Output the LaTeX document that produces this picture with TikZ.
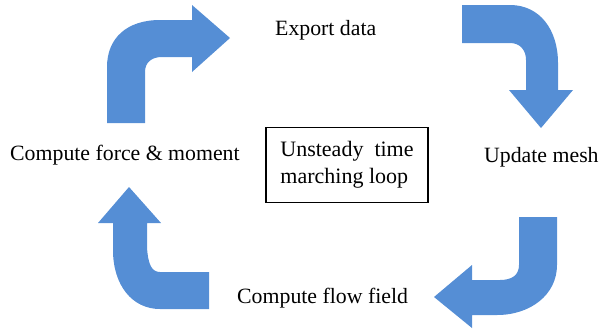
\documentclass[tikz,border=0pt]{standalone}
\usepackage{fontspec}
\setmainfont{Liberation Serif}
\usepackage{tikz}
\definecolor{arrowblue}{HTML}{558ED5}

\begin{document}
\begin{tikzpicture}[x=1pt, y=-1pt,
  steplabel/.style={anchor=base west, inner sep=0pt, font=\fontsize{21.8}{27}\selectfont},
  turnarrow/.style={fill=arrowblue, draw=none}]
\useasboundingbox (0,0) rectangle (599,333);

\node[steplabel] (export) at (275,35) {Export data};
\node[steplabel] (mesh) at (484,162) {Update mesh};
\node[steplabel] (flow) at (237,303) {Compute flow field};
\node[steplabel] (force) at (10,160) {Compute force \& moment};

\node[draw, line width=1.2pt, minimum width=162pt, minimum height=75pt, align=left,
  font=\fontsize{22}{27}\selectfont] (loop) at (347,165) {Unsteady\ \ time\\marching loop};

% top left
\fill[turnarrow] (107,123) -- (107,67) .. controls (107,38) and (127,20) .. (160,20) -- (192,20)
  -- (192,5) -- (230,38) -- (192,72) -- (192,57) -- (162,57)
  .. controls (152,57) and (145,62) .. (145,72) -- (145,123) -- cycle;
% top right
\fill[turnarrow] (462,5) -- (510,5) .. controls (540,5) and (558,30) .. (558,63) -- (558,90)
  -- (573,90) -- (541,128) -- (509,90) -- (526,90) -- (526,60)
  .. controls (526,50) and (520,43) .. (510,43) -- (462,43) -- cycle;
% bottom right
\fill[turnarrow] (519,217) -- (557,217) -- (557,265) .. controls (557,295) and (530,315) .. (497,315)
  -- (472,315) -- (472,328) -- (434,297) -- (472,265) -- (472,280) -- (500,280)
  .. controls (512,280) and (519,275) .. (519,265) -- cycle;
% bottom left
\fill[turnarrow] (129,187) -- (161,223) -- (147,223) -- (147,247)
  .. controls (148,265) and (152,272) .. (160,272) -- (209,272) -- (209,309) -- (160,309)
  .. controls (132,309) and (113,285) .. (113,250) -- (113,223) -- (98,223) -- cycle;

\end{tikzpicture}
\end{document}
